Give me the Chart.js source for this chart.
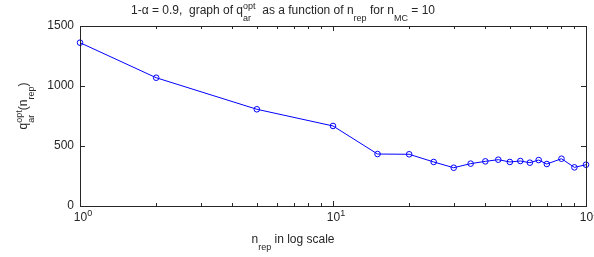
<!DOCTYPE html>
<html lang="en">
<head>
    <meta charset="UTF-8">
    <title>q_ar opt vs n_rep</title>
    <script src="https://cdn.jsdelivr.net/npm/chart.js@4.4.1/dist/chart.umd.min.js"></script>
    <style>
        body { margin: 0; background: #fff; }
    </style>
</head>
<body>
    <canvas id="myChart" width="594" height="257"></canvas>
    <script>
        // values
        const nRep = [1, 2, 5, 10, 15, 20, 25, 30, 35, 40, 45, 50, 55, 60, 65, 70, 80, 90, 100];
        const qOpt = [1361, 1069, 806, 667, 433, 431, 367, 319, 353, 372, 386, 367, 375, 361, 383, 350, 394, 322, 344];
        const yTicks = [0, 500, 1000, 1500];
        const xDecades = [1, 10, 100];
        const xExponents = ['0', '1', '2'];

        const FONT = '"Liberation Sans", Arial, Helvetica, sans-serif';
        const TXT = '#262626';

        // pieces: 'text', ['sub', t], ['sup', t], ['supsub', sup, sub]
        function richWidth(ctx, parts, size) {
            let w = 0;
            for (const p of parts) {
                if (typeof p === 'string') {
                    ctx.font = size + 'px ' + FONT;
                    w += ctx.measureText(p).width;
                } else {
                    ctx.font = Math.round(size * 0.75) + 'px ' + FONT;
                    if (p[0] === 'supsub') w += Math.max(ctx.measureText(p[1]).width, ctx.measureText(p[2]).width);
                    else w += ctx.measureText(p[1]).width;
                }
            }
            return w;
        }
        function drawRich(ctx, parts, x, y, size) {
            const small = Math.round(size * 0.75) + 'px ' + FONT;
            const up = 5, down = 7;
            ctx.textAlign = 'left';
            ctx.textBaseline = 'alphabetic';
            for (const p of parts) {
                if (typeof p === 'string') {
                    ctx.font = size + 'px ' + FONT;
                    ctx.fillText(p, x, y);
                    x += ctx.measureText(p).width;
                } else {
                    ctx.font = small;
                    if (p[0] === 'sup') {
                        ctx.fillText(p[1], x, y - up);
                        x += ctx.measureText(p[1]).width;
                    } else if (p[0] === 'sub') {
                        ctx.fillText(p[1], x, y + down);
                        x += ctx.measureText(p[1]).width;
                    } else {
                        ctx.fillText(p[1], x, y - up);
                        ctx.fillText(p[2], x, y + down);
                        x += Math.max(ctx.measureText(p[1]).width, ctx.measureText(p[2]).width);
                    }
                }
            }
        }
        function drawRichCentered(ctx, parts, cx, y, size) {
            drawRich(ctx, parts, cx - richWidth(ctx, parts, size) / 2, y, size);
        }

        const matlabAxes = {
            id: 'matlabAxes',
            afterDraw(chart) {
                const ctx = chart.ctx;
                const a = chart.chartArea;
                const xs = chart.scales.x, ys = chart.scales.y;
                ctx.save();
                ctx.strokeStyle = TXT;
                ctx.lineWidth = 1;
                ctx.strokeRect(Math.round(a.left) + 0.5, Math.round(a.top) + 0.5,
                    Math.round(a.right - a.left), Math.round(a.bottom - a.top));

                ctx.beginPath();
                // y ticks on both sides, pointing in
                for (const v of yTicks) {
                    const py = Math.round(ys.getPixelForValue(v)) + 0.5;
                    ctx.moveTo(a.left, py); ctx.lineTo(a.left + 5, py);
                    ctx.moveTo(a.right, py); ctx.lineTo(a.right - 5, py);
                }
                // log x ticks, bottom and top
                for (let d = 1; d < 100; d *= 10) {
                    for (let m = 1; m <= 10; m++) {
                        const px = Math.round(xs.getPixelForValue(d * m)) + 0.5;
                        const len = (m === 1 || m === 10) ? 5 : 3;
                        ctx.moveTo(px, a.bottom); ctx.lineTo(px, a.bottom - len);
                        ctx.moveTo(px, a.top); ctx.lineTo(px, a.top + len);
                    }
                }
                ctx.stroke();

                ctx.fillStyle = TXT;
                ctx.font = '12px ' + FONT;
                ctx.textAlign = 'right';
                ctx.textBaseline = 'middle';
                for (const v of yTicks) {
                    ctx.fillText(String(v), a.left - 6, ys.getPixelForValue(v));
                }
                xDecades.forEach((v, i) => {
                    drawRichCentered(ctx, ['10', ['sup', xExponents[i]]], xs.getPixelForValue(v) + 3, a.bottom + 15, 12);
                });

                // title
                drawRichCentered(ctx, ['1-\u03b1 = 0.9,  graph of q', ['supsub', 'opt', 'ar'],
                    '  as a function of n', ['sub', 'rep'], ' for n', ['sub', 'MC'], ' = 10'], 283, 14, 12);

                // x label
                drawRichCentered(ctx, ['n', ['sub', 'rep'], ' in log scale'], 293, 243, 12);

                // y label
                ctx.translate(27, 106);
                ctx.rotate(-Math.PI / 2);
                drawRichCentered(ctx, ['q', ['supsub', 'opt', 'ar'], '(n', ['sub', 'rep'], ')'], 0, 0, 12);
                ctx.restore();
            }
        };

        const ctx = document.getElementById('myChart').getContext('2d');
        const myChart = new Chart(ctx, {
            type: 'line',
            data: {
                datasets: [{
                    data: nRep.map((n, i) => ({ x: n, y: qOpt[i] })),
                    borderColor: '#0000ff',
                    borderWidth: 1,
                    backgroundColor: 'rgba(0,0,0,0)',
                    pointBorderColor: '#0000ff',
                    pointBackgroundColor: 'rgba(0,0,0,0)',
                    pointBorderWidth: 1,
                    pointRadius: 2.8,
                    tension: 0,
                    clip: false
                }]
            },
            options: {
                responsive: false,
                animation: false,
                events: [],
                layout: { padding: { left: 80, top: 26, right: 8, bottom: 51 } },
                plugins: { legend: { display: false }, tooltip: { enabled: false } },
                scales: {
                    x: { type: 'logarithmic', min: 1, max: 100, display: false },
                    y: { type: 'linear', min: 0, max: 1500, display: false }
                }
            },
            plugins: [matlabAxes]
        });
    </script>
</body>
</html>
